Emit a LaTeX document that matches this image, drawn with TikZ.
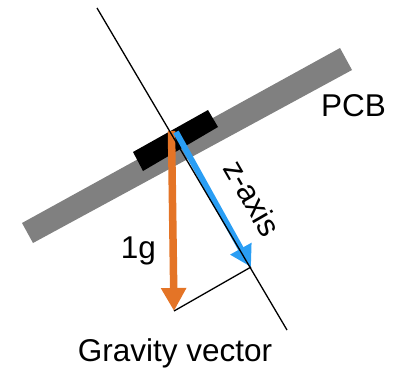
\documentclass[tikz,border=0pt]{standalone}
\usepackage{fontspec}
\setmainfont{Liberation Sans}
\usetikzlibrary{arrows.meta}
\definecolor{pcbgray}{RGB}{128,128,128}
\definecolor{gorange}{RGB}{228,116,38}
\definecolor{zblue}{RGB}{42,158,244}
\tikzset{
  lbl/.style={font=\fontsize{31.5}{38}\selectfont, inner sep=0pt},
  thinline/.style={line width=1.3pt, black},
  garrow/.style={line width=7.5pt, gorange, -{Triangle[width=24pt,length=23pt]}},
  zarrow/.style={line width=6pt, zblue, -{Triangle[width=23pt,length=21pt]}}
}
\begin{document}
\begin{tikzpicture}[x=1pt,y=-1pt]
\useasboundingbox (0,0) rectangle (402,369);
% PCB bar
\fill[pcbgray] (22,223) -- (33,243) -- (352,70) -- (340,48) -- cycle;
% chip
\fill[black] (133,152) -- (143,171) -- (218,127) -- (208,110) -- cycle;
% points
\coordinate (axisTop) at (97,8);
\coordinate (axisBot) at (287,330);
\coordinate (pivotG) at (171.5,131);
\coordinate (pivotZ) at (176,132);
\coordinate (gTip) at (174,311);
\coordinate (zTip) at (251,267);
% arrows
\draw[garrow] (pivotG) -- (gTip);
\draw[zarrow] (pivotZ) -- (zTip);
% axis line
\draw[thinline] (axisTop) -- (axisBot);
% projection
\draw[thinline] (gTip) -- (zTip);
% labels
\node[lbl, anchor=base] (pcb) at (353.5,117) {PCB};
\node[lbl, anchor=base] (grav) at (175,361.5) {Gravity vector};
\node[lbl, anchor=base] (oneg) at (138.5,258) {1g};
\node[lbl, rotate=-60] (zax) at (252.5,198) {z-axis};
\end{tikzpicture}
\end{document}
